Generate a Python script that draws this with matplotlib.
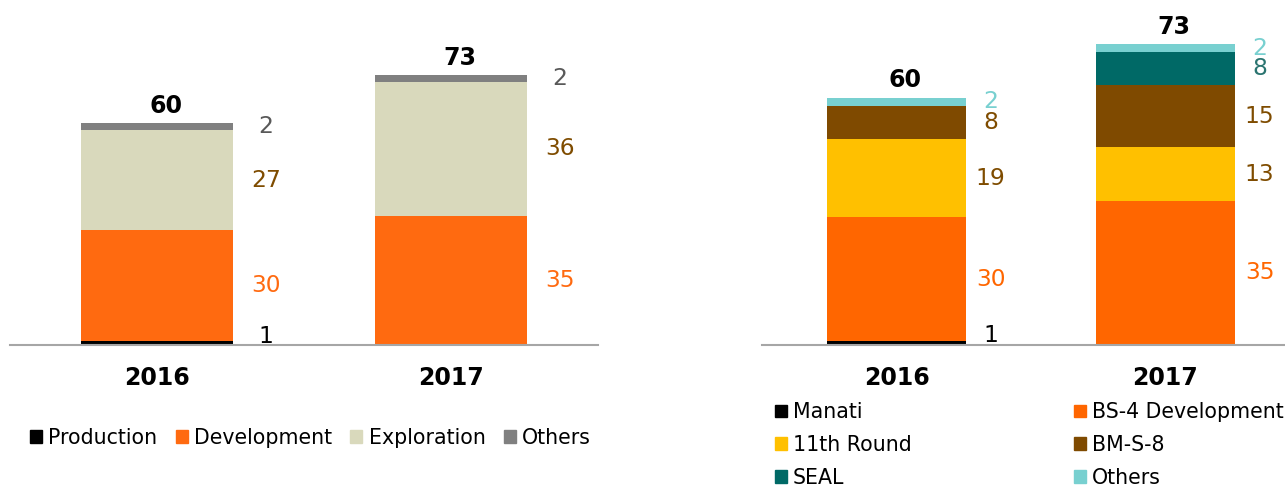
import matplotlib
matplotlib.use("Agg")
import matplotlib.pyplot as plt
from matplotlib.patches import Patch
import numpy as np

plt.rcParams['font.family'] = ['DejaVu Sans']

years = ['2016', '2017']

# left chart: by activity
left_names = ['Production', 'Development', 'Exploration', 'Others']
left_vals = [
    [1, 0],    # Production
    [30, 35],  # Development
    [27, 36],  # Exploration
    [2, 2],    # Others
]
left_totals = [60, 73]
left_fill = ['#000000', '#FF6A10', '#D9D9BC', '#808080']
left_text = ['#000000', '#FF6A10', '#7F4C00', '#595959']

# right chart: by project
right_names = ['Manati', 'BS-4 Development', '11th Round', 'BM-S-8', 'SEAL', 'Others']
right_vals = [
    [1, 0],    # Manati
    [30, 35],  # BS-4 Development
    [19, 13],  # 11th Round
    [8, 15],   # BM-S-8
    [0, 8],    # SEAL
    [2, 2],    # Others
]
right_totals = [60, 73]
right_fill = ['#000000', '#FF6600', '#FFC000', '#7F4A00', '#006966', '#78D0D0']
right_text = ['#000000', '#FF6600', '#7F4C00', '#7F4C00', '#2A7470', '#78D0D0']

W, H = 1285, 487
fig = plt.figure(figsize=(W / 100, H / 100), dpi=100)


def stacked(ax, vals, totals, fills, texts, lab_dx):
    x = np.arange(len(years))
    bottom = np.zeros(len(years))
    for v, fc, tc in zip(vals, fills, texts):
        v = np.array(v, dtype=float)
        ax.bar(x, v, bottom=bottom, width=0.515, color=fc, edgecolor='none')
        for i in range(len(x)):
            if v[i] > 0:
                y = max(bottom[i] + v[i] / 2, 2.3)
                ax.text(x[i] + lab_dx, y, f'{int(v[i])}', color=tc, fontsize=16.8,
                        ha='center', va='center')
        bottom += v
    for i in range(len(x)):
        ax.text(x[i] + 0.03, bottom[i] + 1.3, str(totals[i]), fontsize=17,
                fontweight='bold', ha='center', va='bottom')
    ax.set_xlim(-0.5, 1.5)
    ax.set_ylim(0, 80)
    ax.set_xticks(x)
    ax.set_xticklabels(years, fontsize=17, fontweight='bold')
    ax.tick_params(axis='x', length=0, pad=15)
    ax.set_yticks([])
    for s in ['top', 'left', 'right']:
        ax.spines[s].set_visible(False)
    ax.spines['bottom'].set_color('#A6A6A6')
    ax.spines['bottom'].set_linewidth(1.5)


base = (H - 345) / H
ax1 = fig.add_axes([10 / W, base, 588 / W, 80 * 3.7 / H])
stacked(ax1, left_vals, left_totals, left_fill, left_text, 0.37)

ax2 = fig.add_axes([762 / W, base, 538 / W, 80 * 4.12 / H])
stacked(ax2, right_vals, right_totals, right_fill, right_text, 0.35)

leg_kw = dict(frameon=False, fontsize=14.8, handlelength=0.58, handleheight=0.58,
              handletextpad=0.3, borderpad=0, borderaxespad=0)

fig.legend([Patch(color=c) for c in left_fill], left_names, ncol=4,
           columnspacing=0.9, loc='center left',
           bbox_to_anchor=(30 / W, (H - 438) / H), **leg_kw)

col_a = [0, 2, 4]
col_b = [1, 3, 5]
fig.legend([Patch(color=right_fill[i]) for i in col_a], [right_names[i] for i in col_a],
           labelspacing=0.62, loc='center left',
           bbox_to_anchor=(775 / W, (H - 445) / H), **leg_kw)
fig.legend([Patch(color=right_fill[i]) for i in col_b], [right_names[i] for i in col_b],
           labelspacing=0.62, loc='center left',
           bbox_to_anchor=(1074 / W, (H - 445) / H), **leg_kw)

fig.savefig('out.png', dpi=100)
